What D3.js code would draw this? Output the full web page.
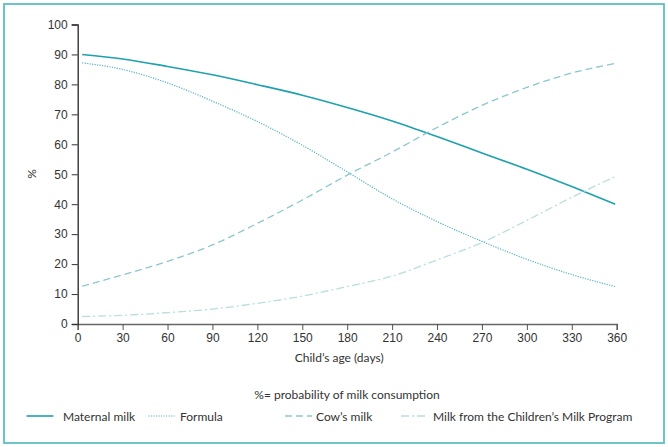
<!DOCTYPE html>
<html>
<head>
<meta charset="utf-8">
<script src="https://cdn.jsdelivr.net/npm/d3@7"></script>
<style>
  html, body { margin: 0; padding: 0; background: #fff; }
  svg { display: block; font-family: Lato, "Open Sans", sans-serif; }
</style>
</head>
<body>
<svg id="chart" width="668" height="447"></svg>
<script>
// ---- data ----
const days = [3, 30, 60, 90, 120, 150, 180, 210, 240, 270, 300, 330, 359];
const maternalMilk = [90, 88.5, 86, 83.2, 79.9, 76.4, 72.3, 67.8, 62.6, 57.1, 51.7, 45.9, 40];
const formula = [87.2, 85.0, 80.5, 74.4, 67.6, 59.7, 50.8, 41.8, 34.2, 27.6, 21.6, 16.5, 12.5];
const cowsMilk = [12.6, 16.4, 20.9, 26.4, 33.6, 41.4, 49.7, 57.4, 65.6, 73.0, 79.0, 83.8, 87.0];
const childrensProgram = [2.5, 2.9, 3.8, 5.0, 6.9, 9.3, 12.5, 16.0, 21.4, 27.2, 34.6, 42.3, 49.2];
const xTicks = [0, 30, 60, 90, 120, 150, 180, 210, 240, 270, 300, 330, 360];
const yTicks = [0, 10, 20, 30, 40, 50, 60, 70, 80, 90, 100];
const seriesNames = ["Maternal milk", "Formula", "Cow\u2019s milk", "Milk from the Children\u2019s Milk Program"];
const xTitle = "Child\u2019s age (days)";
const yTitle = "%";
const note = "%= probability of milk consumption";

// ---- styles ----
const seriesStyles = [
  { color: "#1ea1ae", width: 1.6, dash: null },
  { color: "#55b3c0", width: 1.2, dash: "1.2,1.3" },
  { color: "#8cc6cf", width: 1.3, dash: "7,4" },
  { color: "#b9dde1", width: 1.3, dash: "8,3,2,3" }
];
const seriesData = [maternalMilk, formula, cowsMilk, childrensProgram];

const svg = d3.select("#chart");
const W = 668, H = 447;

// frame
svg.append("rect").attr("x", 4).attr("y", 4).attr("width", W - 8).attr("height", H - 8)
  .attr("fill", "none").attr("stroke", "#5cbfc0").attr("stroke-width", 1.8);

const x = d3.scaleLinear().domain([0, 360]).range([77.7, 616.7]);
const y = d3.scaleLinear().domain([0, 100]).range([324, 24.5]);

// axes
const xAxis = svg.append("g").attr("transform", `translate(0,${y(0)})`)
  .call(d3.axisBottom(x).tickValues(xTicks).tickSize(6).tickPadding(3).tickFormat(d3.format("d")));
xAxis.select(".domain").attr("stroke", "#666").attr("stroke-width", 1.4);
xAxis.selectAll(".tick line").attr("stroke", "#555");
xAxis.selectAll(".tick text").attr("fill", "#333").style("font-size", "12px");

const yAxis = svg.append("g").attr("transform", `translate(${x(0)},0)`)
  .call(d3.axisLeft(y).tickValues(yTicks).tickSize(6).tickPadding(4).tickFormat(d3.format("d")));
yAxis.select(".domain").attr("stroke", "#333").attr("stroke-width", 1.4);
yAxis.selectAll(".tick line").attr("stroke", "#333");
yAxis.selectAll(".tick text").attr("fill", "#333").style("font-size", "12px");

// axis titles
svg.append("text").attr("x", x(180) - 8).attr("y", 362).attr("text-anchor", "middle")
  .attr("fill", "#333").style("font-size", "12px").text(xTitle);
svg.append("text").attr("transform", `translate(36,174) rotate(-90)`).attr("text-anchor", "middle")
  .attr("fill", "#333").style("font-size", "12px").text(yTitle);

// lines
const line = d3.line().x((d, i) => x(days[i])).y(d => y(d)).curve(d3.curveMonotoneX);
seriesData.forEach((vals, k) => {
  const s = seriesStyles[k];
  svg.append("path").datum(vals).attr("d", line)
    .attr("fill", "none").attr("stroke", s.color).attr("stroke-width", s.width)
    .attr("stroke-dasharray", s.dash);
});

// note
svg.append("text").attr("x", 347).attr("y", 399).attr("text-anchor", "middle")
  .attr("fill", "#333").style("font-size", "12px").text(note);

// legend
const legendX = [26.5, 148.5, 285, 401];
const legendTextX = [63, 180, 316, 433];
const legendY = 416;
seriesNames.forEach((name, k) => {
  const s = seriesStyles[k];
  svg.append("line").attr("x1", legendX[k]).attr("x2", legendX[k] + 27)
    .attr("y1", legendY).attr("y2", legendY)
    .attr("stroke", s.color).attr("stroke-width", s.width).attr("stroke-dasharray", s.dash);
  svg.append("text").attr("x", legendTextX[k]).attr("y", legendY + 4.5)
    .attr("fill", "#333").style("font-size", "12px").text(name);
});
</script>
</body>
</html>
